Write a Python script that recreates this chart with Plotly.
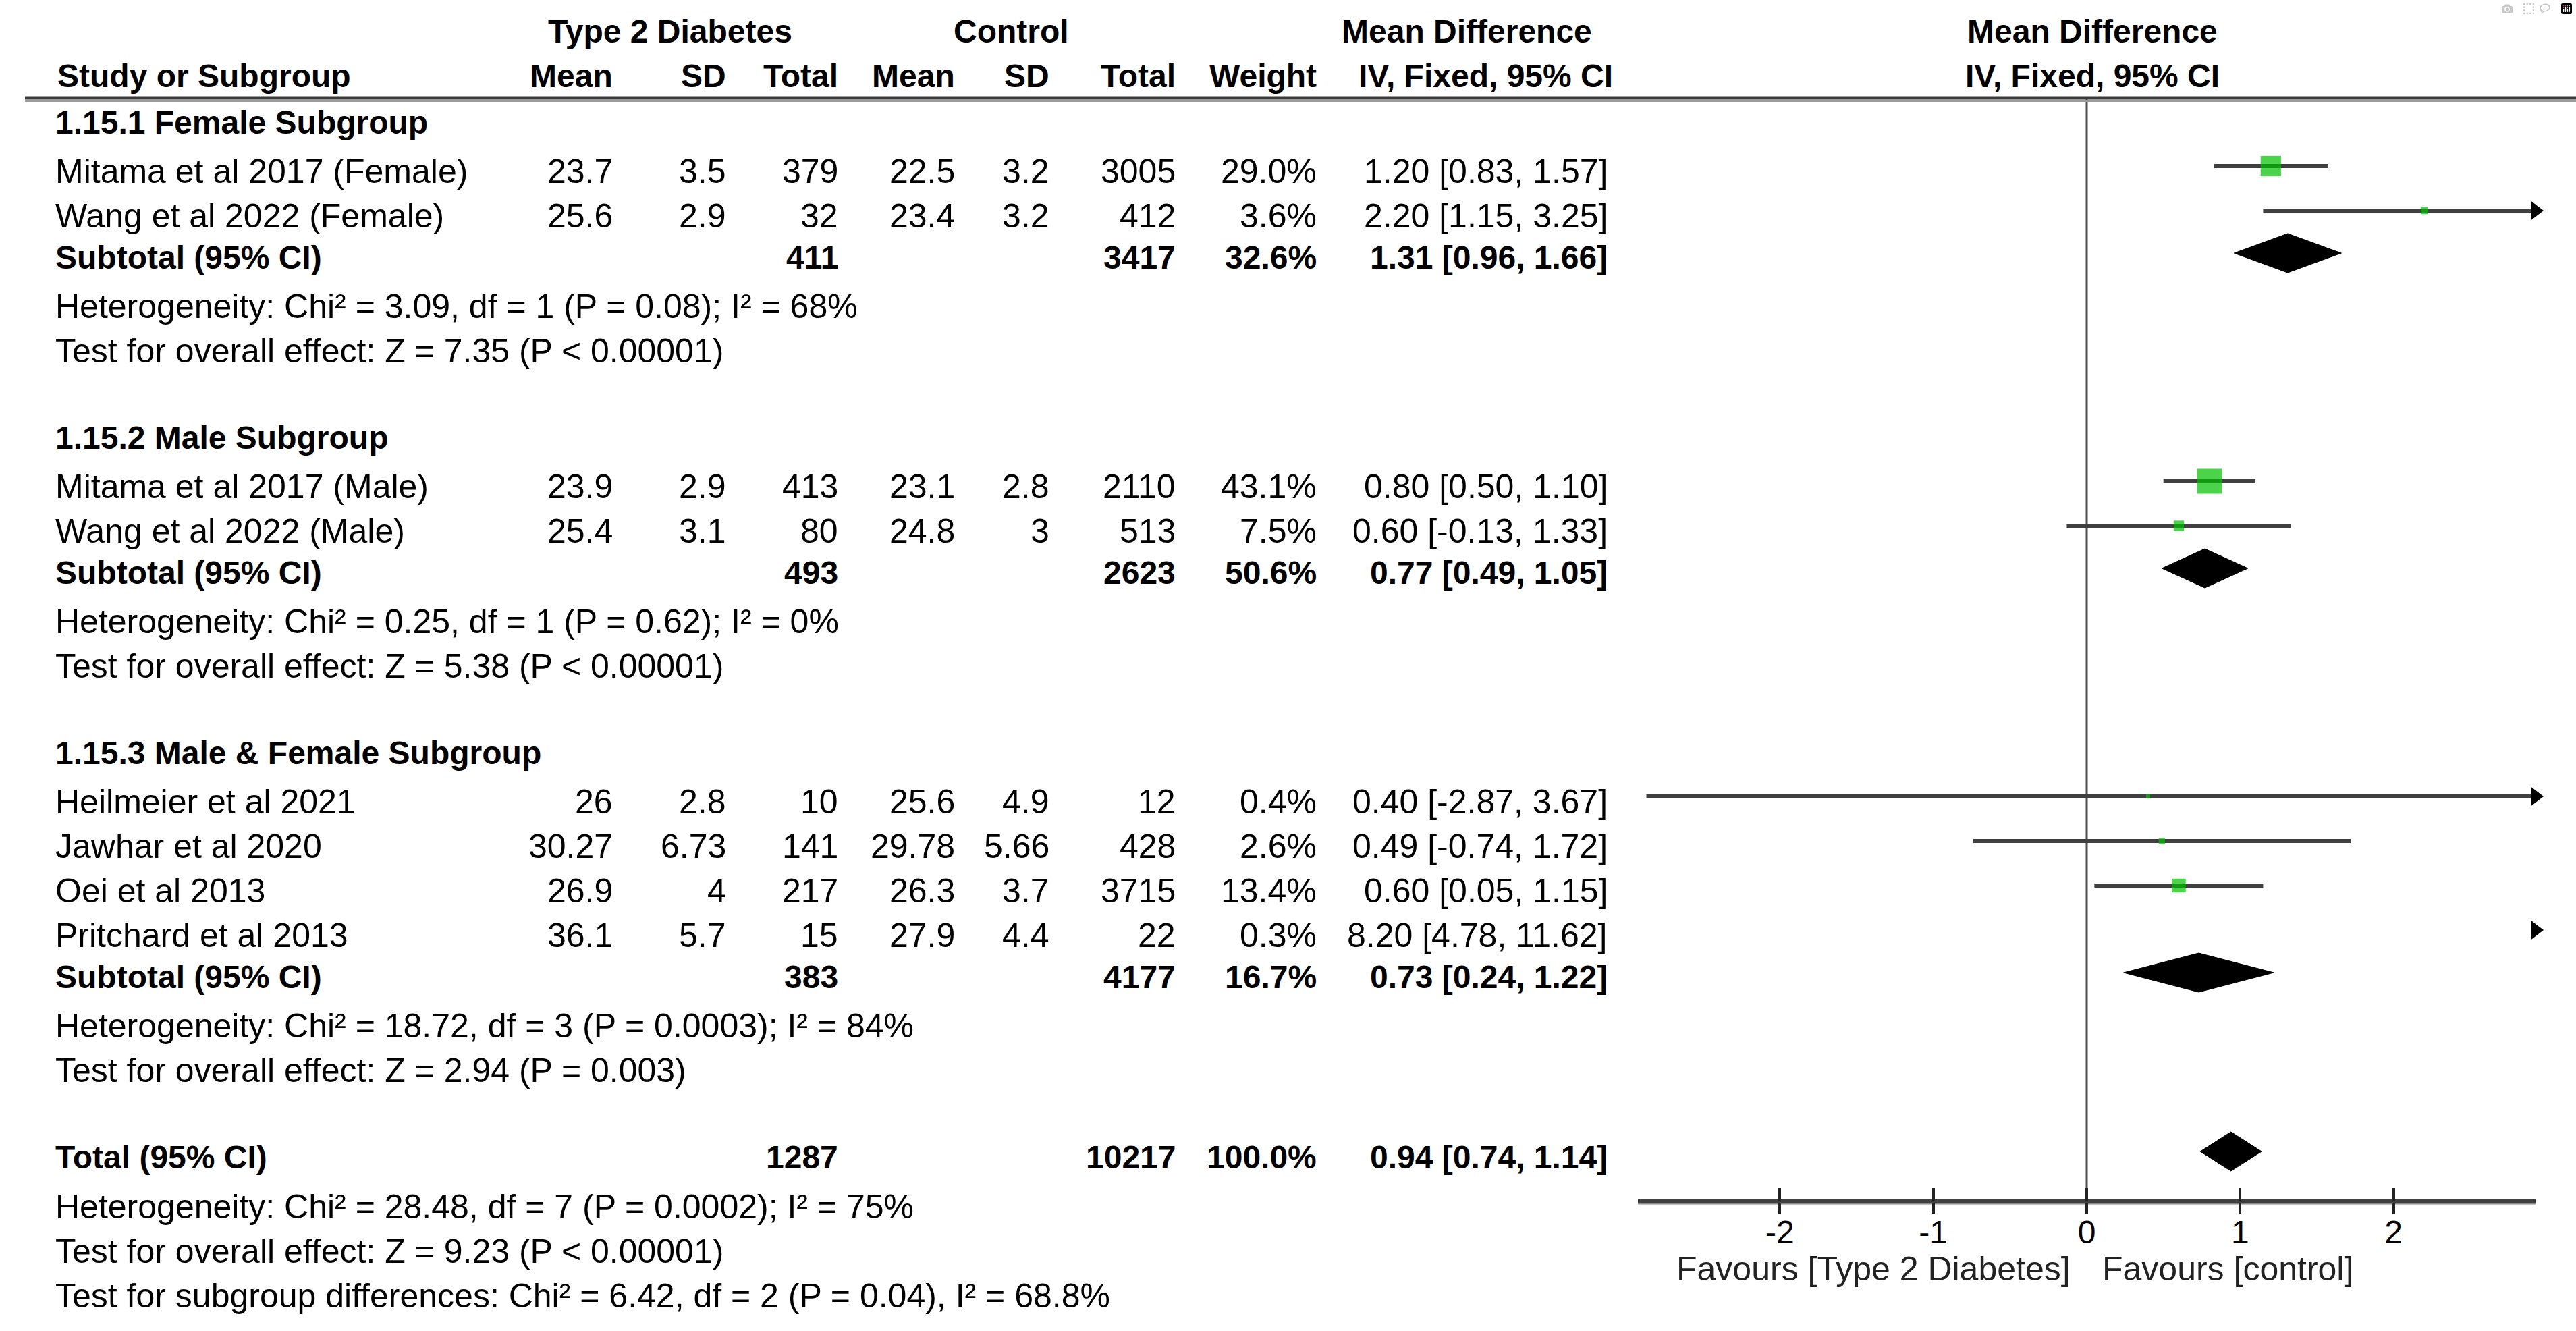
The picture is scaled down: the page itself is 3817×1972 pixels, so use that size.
import math
import plotly.graph_objects as go

W, H = 3817, 1972

# ---------------- data ----------------
studies = ["Mitama et al 2017 (Female)", "Wang et al 2022 (Female)",
           "Mitama et al 2017 (Male)", "Wang et al 2022 (Male)",
           "Heilmeier et al 2021", "Jawhar et al 2020", "Oei et al 2013", "Pritchard et al 2013"]
study_group = [0, 0, 1, 1, 2, 2, 2, 2]
t2d_mean = [23.7, 25.6, 23.9, 25.4, 26, 30.27, 26.9, 36.1]
t2d_sd = [3.5, 2.9, 2.9, 3.1, 2.8, 6.73, 4, 5.7]
t2d_total = [379, 32, 413, 80, 10, 141, 217, 15]
ctl_mean = [22.5, 23.4, 23.1, 24.8, 25.6, 29.78, 26.3, 27.9]
ctl_sd = [3.2, 3.2, 2.8, 3, 4.9, 5.66, 3.7, 4.4]
ctl_total = [3005, 412, 2110, 513, 12, 428, 3715, 22]
weights = [29.0, 3.6, 43.1, 7.5, 0.4, 2.6, 13.4, 0.3]
md = [1.20, 2.20, 0.80, 0.60, 0.40, 0.49, 0.60, 8.20]
ci_lo = [0.83, 1.15, 0.50, -0.13, -2.87, -0.74, 0.05, 4.78]
ci_hi = [1.57, 3.25, 1.10, 1.33, 3.67, 1.72, 1.15, 11.62]

groups = ["1.15.1 Female Subgroup", "1.15.2 Male Subgroup", "1.15.3 Male & Female Subgroup"]
group_t2d_total = [411, 493, 383]
group_ctl_total = [3417, 2623, 4177]
group_weight = [32.6, 50.6, 16.7]
group_md = [1.31, 0.77, 0.73]
group_lo = [0.96, 0.49, 0.24]
group_hi = [1.66, 1.05, 1.22]
group_het = ["Heterogeneity: Chi² = 3.09, df = 1 (P = 0.08); I² = 68%",
             "Heterogeneity: Chi² = 0.25, df = 1 (P = 0.62); I² = 0%",
             "Heterogeneity: Chi² = 18.72, df = 3 (P = 0.0003); I² = 84%"]
group_effect = ["Test for overall effect: Z = 7.35 (P < 0.00001)",
                "Test for overall effect: Z = 5.38 (P < 0.00001)",
                "Test for overall effect: Z = 2.94 (P = 0.003)"]

total_t2d = 1287
total_ctl = 10217
total_weight = 100.0
total_md, total_lo, total_hi = 0.94, 0.74, 1.14
total_het = "Heterogeneity: Chi² = 28.48, df = 7 (P = 0.0002); I² = 75%"
total_effect = "Test for overall effect: Z = 9.23 (P < 0.00001)"
subgroup_diff = "Test for subgroup differences: Chi² = 6.42, df = 2 (P = 0.04), I² = 68.8%"

axis_ticks = [-2, -1, 0, 1, 2]
axis_ticktext = ["-2", "-1", "0", "1", "2"]
favours_left = "Favours [Type 2 Diabetes]"
favours_right = "Favours [control]"
header_t2d = "Type 2 Diabetes"
header_ctl = "Control"
header_md = "Mean Difference"
header_md2 = "IV, Fixed, 95% CI"
col_headers = ["Study or Subgroup", "Mean", "SD", "Total", "Mean", "SD", "Total", "Weight", "IV, Fixed, 95% CI"]

# ---------------- layout constants (pixels) ----------------
X_MIN, X_MAX = -2.925, 2.925
AX_L, AX_R = 2427, 3757
AXIS_Y = 1779
Y_HDR1, Y_HDR2, Y_LINE = 46, 112, 145
X_LEFT = 80
COL_RIGHT = [None, 910, 1078, 1244, 1417, 1557, 1744, 1953, 2384]
FONT = "Liberation Sans, Arial, Helvetica, sans-serif"
FS = 50
FSB = 48
GREEN = "#00C000"
LINEC = "#404040"
MARK_DY = -8      # CI line sits slightly above the text centre
DIAM_DY = -6

# row positions (text centres)
study_y = [0.0] * len(studies)
title_y, sub_y, het_y, eff_y = [], [], [], []
y = 181.0
for g in range(len(groups)):
    title_y.append(y)
    y += 73
    last = y
    for i, sg in enumerate(study_group):
        if sg == g:
            study_y[i] = y
            last = y
            y += 66
    s = last + 61
    sub_y.append(s)
    het_y.append(s + 73)
    eff_y.append(s + 139)
    y = s + 139 + 128
tot_y = eff_y[-1] + 128
tot_het_y = tot_y + 74
tot_eff_y = tot_y + 140
sub_diff_y = tot_y + 206

ann = []


def px(x):
    return x / W


def text(x, yy, s, anchor="left", bold=False, size=None, color="#000000"):
    ann.append(dict(x=px(x), y=yy, xref="paper", yref="y", text=("<b>%s</b>" % s) if bold else s,
                    showarrow=False, xanchor=anchor, yanchor="middle",
                    font=dict(family=FONT, size=size or (FSB if bold else FS), color=color)))


def fmt(v):
    return f"{v:g}"


# headers
text(993, Y_HDR1, header_t2d, "center", True)
text(1498, Y_HDR1, header_ctl, "center", True)
text(2173, Y_HDR1, header_md, "center", True)
text(83, Y_HDR2, col_headers[0], "left", True)
for k in range(1, 8):
    text(COL_RIGHT[k], Y_HDR2, col_headers[k], "right", True)
text(2201, Y_HDR2, col_headers[8], "center", True)
text(3100, Y_HDR1, header_md, "center", True)
text(3100, Y_HDR2, header_md2, "center", True)

# study rows
for i, s in enumerate(studies):
    yy = study_y[i]
    text(X_LEFT, yy, s)
    vals = [fmt(t2d_mean[i]), fmt(t2d_sd[i]), str(t2d_total[i]), fmt(ctl_mean[i]), fmt(ctl_sd[i]),
            str(ctl_total[i]), f"{weights[i]:.1f}%", f"{md[i]:.2f} [{ci_lo[i]:.2f}, {ci_hi[i]:.2f}]"]
    for k, v in enumerate(vals, start=1):
        text(COL_RIGHT[k], yy, v, "right")

# group rows
for g, name in enumerate(groups):
    text(X_LEFT, title_y[g], name, bold=True)
    text(X_LEFT, sub_y[g], "Subtotal (95% CI)", bold=True)
    text(COL_RIGHT[3], sub_y[g], str(group_t2d_total[g]), "right", True)
    text(COL_RIGHT[6], sub_y[g], str(group_ctl_total[g]), "right", True)
    text(COL_RIGHT[7], sub_y[g], f"{group_weight[g]:.1f}%", "right", True)
    text(COL_RIGHT[8], sub_y[g], f"{group_md[g]:.2f} [{group_lo[g]:.2f}, {group_hi[g]:.2f}]", "right", True)
    text(X_LEFT, het_y[g], group_het[g])
    text(X_LEFT, eff_y[g], group_effect[g])

# totals
text(X_LEFT, tot_y, "Total (95% CI)", bold=True)
text(COL_RIGHT[3], tot_y, str(total_t2d), "right", True)
text(COL_RIGHT[6], tot_y, str(total_ctl), "right", True)
text(COL_RIGHT[7], tot_y, f"{total_weight:.1f}%", "right", True)
text(COL_RIGHT[8], tot_y, f"{total_md:.2f} [{total_lo:.2f}, {total_hi:.2f}]", "right", True)
text(X_LEFT, tot_het_y, total_het)
text(X_LEFT, tot_eff_y, total_effect)
text(X_LEFT, sub_diff_y, subgroup_diff)

# favours labels
text(3070, 1880, favours_left, "right", color="#222222")
text(3113, 1880, favours_right, "left", color="#222222")

fig = go.Figure()

# CI lines
lx, ly = [], []
arr_x, arr_y = [], []
for i in range(len(studies)):
    yy = study_y[i] + MARK_DY
    a, b = max(ci_lo[i], X_MIN), min(ci_hi[i], X_MAX)
    if a < b:
        lx += [a, b, None]
        ly += [yy, yy, None]
    if ci_hi[i] > X_MAX:
        arr_x.append(X_MAX)
        arr_y.append(yy)
fig.add_trace(go.Scatter(x=lx, y=ly, mode="lines", line=dict(color=LINEC, width=6), hoverinfo="skip"))

# squares
sx, sy, ss = [], [], []
for i in range(len(studies)):
    if X_MIN <= md[i] <= X_MAX:
        sx.append(md[i])
        sy.append(study_y[i] + MARK_DY)
        ss.append(max(6.0, 5.6 * math.sqrt(weights[i])))
fig.add_trace(go.Scatter(x=sx, y=sy, mode="markers",
                         marker=dict(symbol="square", size=ss, color=GREEN, line=dict(width=0)), hoverinfo="skip"))

# arrows for truncated confidence intervals
fig.add_trace(go.Scatter(x=arr_x, y=arr_y, mode="markers", cliponaxis=False,
                         marker=dict(symbol="triangle-right", size=24, color="#000000", line=dict(width=0)),
                         hoverinfo="skip"))

# diamonds
DH = 29
dx, dy = [], []
for g in range(len(groups)):
    yy = sub_y[g] + DIAM_DY
    dx += [group_lo[g], group_md[g], group_hi[g], group_md[g], group_lo[g], None]
    dy += [yy, yy - DH, yy, yy + DH, yy, None]
yy = tot_y - 8
dx += [total_lo, total_md, total_hi, total_md, total_lo]
dy += [yy, yy - DH, yy, yy + DH, yy]
fig.add_trace(go.Scatter(x=dx, y=dy, mode="lines", fill="toself", fillcolor="#000000",
                         line=dict(color="#000000", width=1), hoverinfo="skip"))

# overlay axis with inside ticks (tick marks cross the axis line)
fig.add_trace(go.Scatter(x=axis_ticks, y=[AXIS_Y] * len(axis_ticks), xaxis="x2", yaxis="y",
                         mode="markers", marker=dict(opacity=0), hoverinfo="skip"))

shapes = [
    dict(type="line", xref="paper", yref="y", x0=px(37), x1=1, y0=Y_LINE, y1=Y_LINE,
         line=dict(color="#3a3a3a", width=5)),
    dict(type="line", xref="paper", yref="y", x0=px(37), x1=1, y0=Y_LINE + 4.5, y1=Y_LINE + 4.5,
         line=dict(color="#9a9a9a", width=3)),
    dict(type="line", xref="x", yref="y", x0=0, x1=0, y0=Y_LINE, y1=AXIS_Y,
         line=dict(color="#505050", width=3), layer="below"),
    dict(type="line", xref="x", yref="y", x0=X_MIN, x1=X_MAX, y0=AXIS_Y + 3.5, y1=AXIS_Y + 3.5,
         line=dict(color="#8a8a8a", width=4), layer="below"),
]

pos = 1 - AXIS_Y / H
fig.update_layout(
    width=W, height=H, margin=dict(l=0, r=0, t=0, b=0),
    paper_bgcolor="white", plot_bgcolor="rgba(0,0,0,0)", showlegend=False, hovermode=False,
    font=dict(family=FONT, size=FS, color="#000000"),
    xaxis=dict(range=[X_MIN, X_MAX], domain=[AX_L / W, AX_R / W], anchor="free", position=pos,
               showline=True, linecolor="#404040", linewidth=5, ticks="outside", ticklen=16, tickwidth=4,
               tickcolor="#222222", tickvals=axis_ticks, ticktext=axis_ticktext, ticklabelstandoff=-14,
               tickfont=dict(family=FONT, size=48, color="#000000"), showgrid=False, zeroline=False,
               fixedrange=True),
    xaxis2=dict(overlaying="x", matches="x", anchor="free", position=pos, domain=[AX_L / W, AX_R / W],
                ticks="inside", ticklen=19, tickwidth=4, tickcolor="#222222", tickvals=axis_ticks,
                showticklabels=False, showline=False, showgrid=False, zeroline=False, fixedrange=True),
    yaxis=dict(range=[H, 0], domain=[0, 1], visible=False, fixedrange=True),
    annotations=ann, shapes=shapes,
)

fig.write_html("out.html", post_script="document.body.style.margin='0';document.body.style.overflow='hidden';")
